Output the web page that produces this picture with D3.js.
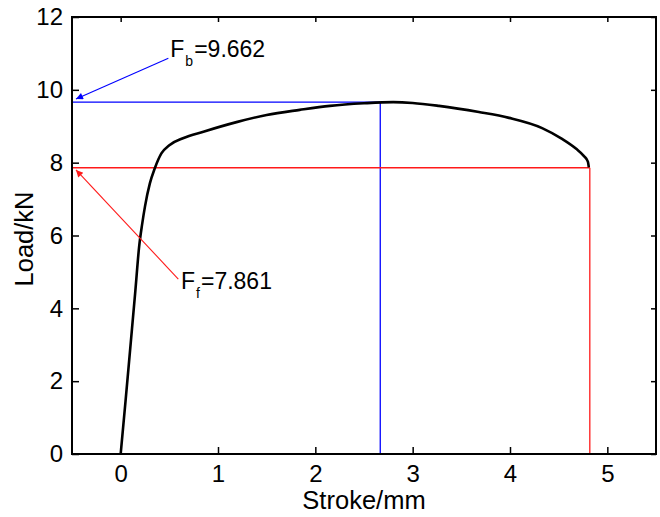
<!DOCTYPE html>
<html>
<head>
<meta charset="utf-8">
<script src="https://cdn.jsdelivr.net/npm/d3@7"></script>
<style>
  html, body { margin: 0; padding: 0; background: #fff; }
  svg { display: block; font-family: "Liberation Sans", Arial, sans-serif; }
</style>
</head>
<body>
<svg id="chart" width="660" height="517"></svg>
<script>
// ---- data ----
const stroke = [0, 0.05, 0.10, 0.15, 0.19, 0.22, 0.25, 0.30, 0.35, 0.42, 0.50, 0.64, 0.85, 1.20, 1.50, 1.84, 2.15, 2.50, 2.80, 3.00, 3.27, 3.68, 3.99, 4.33, 4.53, 4.68, 4.76, 4.80, 4.81];
const load   = [0, 1.45, 2.95, 4.45, 5.70, 6.30, 6.80, 7.43, 7.84, 8.26, 8.48, 8.67, 8.85, 9.12, 9.31, 9.45, 9.56, 9.63, 9.662, 9.64, 9.56, 9.39, 9.23, 8.95, 8.66, 8.38, 8.18, 8.03, 7.87];
const xTicks = [0, 1, 2, 3, 4, 5];
const yTicks = [0, 2, 4, 6, 8, 10, 12];
const xDomain = [-0.5, 5.5];
const yDomain = [0, 12];
const xTitle = "Stroke/mm";
const yTitle = "Load/kN";
// annotations
const annB = { main: "F", sub: "b", text: "=9.662", value: 9.662, at: 2.667, textX: 0.51, textY: 10.89, fromX: 0.49, fromY: 10.87, toX: -0.459, toY: 9.75, color: "#0000ff" };
const annF = { main: "F", sub: "f", text: "=7.861", value: 7.861, at: 4.82, textX: 0.62, textY: 4.52, fromX: 0.592, fromY: 4.805, toX: -0.459, toY: 7.80, color: "#ff1a1a" };

// ---- chart ----
const svg = d3.select("#chart");
const L = 72, R = 656, T = 17, B = 454;
const x = d3.scaleLinear().domain(xDomain).range([L, R]);
const y = d3.scaleLinear().domain(yDomain).range([B, T]);

const defs = svg.append("defs");
[annB, annF].forEach((a, i) => {
  defs.append("marker")
    .attr("id", "arr" + i)
    .attr("viewBox", "0 0 10 10")
    .attr("refX", 10).attr("refY", 5)
    .attr("markerWidth", 11).attr("markerHeight", 7)
    .attr("markerUnits", "userSpaceOnUse")
    .attr("orient", "auto")
    .append("path").attr("d", "M0,0 L10,5 L0,10 z").attr("fill", a.color);
});

// reference lines
[annB, annF].forEach(a => {
  svg.append("line")
    .attr("x1", x(xDomain[0])).attr("x2", x(a.at))
    .attr("y1", y(a.value)).attr("y2", y(a.value))
    .attr("stroke", a.color).attr("stroke-width", 1.3);
  svg.append("line")
    .attr("x1", x(a.at)).attr("x2", x(a.at))
    .attr("y1", y(a.value)).attr("y2", y(0))
    .attr("stroke", a.color).attr("stroke-width", 1.3);
});

// curve
const pts = stroke.map((s, i) => [s, load[i]]);
svg.append("path")
  .datum(pts)
  .attr("fill", "none")
  .attr("stroke", "#000")
  .attr("stroke-width", 2.6)
  .attr("stroke-linejoin", "round")
  .attr("d", d3.line().x(d => x(d[0])).y(d => y(d[1])).curve(d3.curveMonotoneX));

// axes
const tickFs = 24, titleFs = 25.5, annFs = 23;
const gx = svg.append("g").attr("transform", `translate(0,${B})`)
  .call(d3.axisBottom(x).tickValues(xTicks).tickFormat(d3.format("d")).tickSizeInner(-7).tickSizeOuter(0).tickPadding(11));
const gy = svg.append("g").attr("transform", `translate(${L},0)`)
  .call(d3.axisLeft(y).tickValues(yTicks).tickFormat(d3.format("d")).tickSizeInner(-7).tickSizeOuter(0).tickPadding(9));
const gt = svg.append("g").attr("transform", `translate(0,${T})`)
  .call(d3.axisTop(x).tickValues(xTicks).tickFormat("").tickSizeInner(-5).tickSizeOuter(0));
const gr = svg.append("g").attr("transform", `translate(${R},0)`)
  .call(d3.axisRight(y).tickValues(yTicks).tickFormat("").tickSizeInner(-5).tickSizeOuter(0));
[gx, gy, gt, gr].forEach(g => {
  g.select(".domain").remove();
  g.selectAll("line").attr("stroke", "#000").attr("stroke-width", 1.5);
  g.selectAll("text").attr("font-size", tickFs).attr("font-family", "Liberation Sans, Arial, sans-serif").attr("fill", "#000");
});

// frame
svg.append("rect")
  .attr("x", L).attr("y", T).attr("width", R - L).attr("height", B - T)
  .attr("fill", "none").attr("stroke", "#000").attr("stroke-width", 2);

// axis titles
svg.append("text").attr("x", 364).attr("y", 509)
  .attr("text-anchor", "middle").attr("font-size", titleFs).text(xTitle);
svg.append("text").attr("transform", "translate(33,239) rotate(-90)")
  .attr("text-anchor", "middle").attr("font-size", titleFs).text(yTitle);

// annotations
[annB, annF].forEach((a, i) => {
  svg.append("line")
    .attr("x1", x(a.fromX)).attr("y1", y(a.fromY))
    .attr("x2", x(a.toX)).attr("y2", y(a.toY))
    .attr("stroke", a.color).attr("stroke-width", 1.1)
    .attr("marker-end", `url(#arr${i})`);
  const t = svg.append("text").attr("x", x(a.textX)).attr("y", y(a.textY)).attr("font-size", annFs);
  t.append("tspan").text(a.main);
  t.append("tspan").attr("font-size", 14).attr("dy", 9).attr("dx", 1).text(a.sub);
  t.append("tspan").attr("dy", -9).attr("dx", 1).text(a.text);
});
</script>
</body>
</html>
